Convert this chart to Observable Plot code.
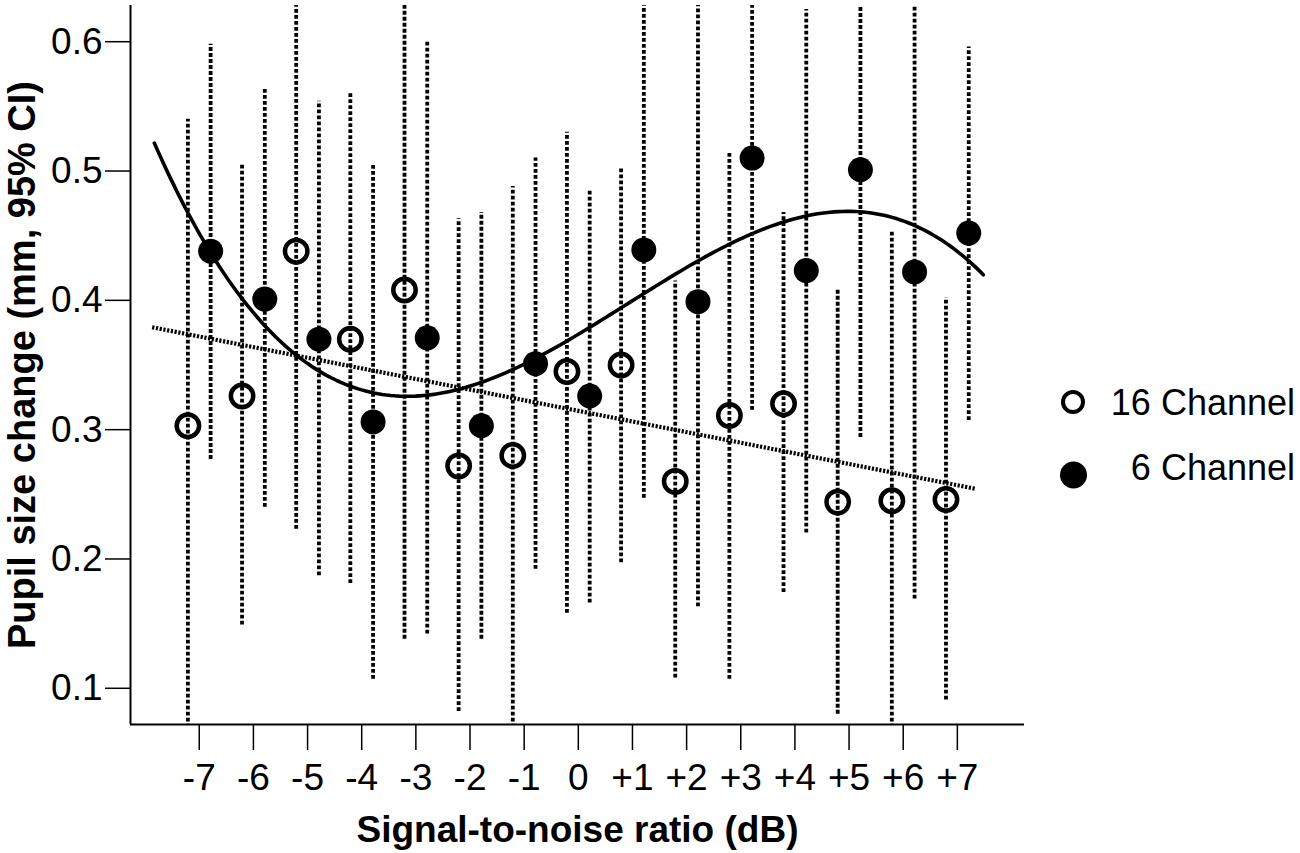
<!DOCTYPE html>
<html>
<head>
<meta charset="utf-8">
<script src="https://cdn.jsdelivr.net/npm/d3@7"></script>
<script src="https://cdn.jsdelivr.net/npm/@observablehq/plot@0.6"></script>
<style>
  body { margin: 0; background: #fff; font-family: "Liberation Sans", Arial, sans-serif; }
  #wrap { position: relative; width: 1300px; height: 853px; overflow: hidden; }
  #legend { position: absolute; left: 0; top: 0; }
</style>
</head>
<body>
<div id="wrap"></div>
<script>
// ---- data ----
const snr = [-7, -6, -5, -4, -3, -2, -1, 0, 1, 2, 3, 4, 5, 6, 7];
const xTickLabels = ["-7", "-6", "-5", "-4", "-3", "-2", "-1", "0", "+1", "+2", "+3", "+4", "+5", "+6", "+7"];
const yTicks = [0.1, 0.2, 0.3, 0.4, 0.5, 0.6];

const ch16Mean = [0.303, 0.326, 0.438, 0.370, 0.408, 0.272, 0.280, 0.345, 0.350, 0.260, 0.311, 0.320, 0.244, 0.245, 0.246];
const ch16Lo   = [0.060, 0.149, 0.223, 0.181, 0.138, 0.082, 0.060, 0.158, 0.197, 0.108, 0.107, 0.174, 0.080, 0.060, 0.091];
const ch16Hi   = [0.540, 0.505, 0.640, 0.560, 0.640, 0.463, 0.488, 0.530, 0.503, 0.415, 0.515, 0.468, 0.409, 0.453, 0.402];

const ch6Mean  = [0.438, 0.401, 0.370, 0.306, 0.371, 0.303, 0.351, 0.326, 0.439, 0.399, 0.510, 0.423, 0.501, 0.422, 0.452];
const ch6Lo    = [0.277, 0.240, 0.187, 0.107, 0.142, 0.138, 0.192, 0.166, 0.247, 0.163, 0.315, 0.220, 0.294, 0.169, 0.307];
const ch6Hi    = [0.598, 0.563, 0.554, 0.505, 0.600, 0.468, 0.510, 0.485, 0.640, 0.640, 0.640, 0.625, 0.640, 0.640, 0.596];

const groupOffset = 0.21;          // cluster offset of the two series (dB units)
const xDomain = [-8.27, 8.24];
const yDomain = [0.072, 0.628];
const cubicRange = [-7.83, 7.48];  // extent of the 6-channel cubic fit line
const linearRange = [-7.87, 7.34]; // extent of the 16-channel linear fit line

const xLabel = "Signal-to-noise ratio (dB)";
const yLabel = "Pupil size change (mm, 95% CI)";
const seriesNames = ["16 Channel", "6 Channel"];

// ---- derived tables ----
const d16 = snr.map((s, i) => ({x: s - groupOffset, s, y: ch16Mean[i], lo: ch16Lo[i], hi: ch16Hi[i]}));
const d6  = snr.map((s, i) => ({x: s + groupOffset, s, y: ch6Mean[i], lo: ch6Lo[i], hi: ch6Hi[i]}));

// least-squares polynomial fit
function polyFit(xs, ys, deg) {
  const n = deg + 1;
  const A = Array.from({length: n}, () => new Array(n + 1).fill(0));
  for (let k = 0; k < xs.length; k++) {
    for (let i = 0; i < n; i++) {
      for (let j = 0; j < n; j++) A[i][j] += Math.pow(xs[k], i + j);
      A[i][n] += ys[k] * Math.pow(xs[k], i);
    }
  }
  for (let i = 0; i < n; i++) {
    let p = i;
    for (let r = i + 1; r < n; r++) if (Math.abs(A[r][i]) > Math.abs(A[p][i])) p = r;
    [A[i], A[p]] = [A[p], A[i]];
    for (let r = 0; r < n; r++) {
      if (r === i) continue;
      const f = A[r][i] / A[i][i];
      for (let c = i; c <= n; c++) A[r][c] -= f * A[i][c];
    }
  }
  return A.map((row, i) => row[n] / row[i]);
}
const evalPoly = (c, x) => c.reduce((s, ci, i) => s + ci * Math.pow(x, i), 0);

const cub = polyFit(snr, ch6Mean, 3);
const lin = polyFit(snr, ch16Mean, 1);
const cubicLine = d3.range(0, 201).map(k => {
  const x = cubicRange[0] + (cubicRange[1] - cubicRange[0]) * k / 200;
  return {x, y: evalPoly(cub, x)};
});
const linearLine = linearRange.map(x => ({x, y: evalPoly(lin, x)}));

const FONT = "Liberation Sans, Arial, Helvetica, sans-serif";

const chart = Plot.plot({
  width: 1300,
  height: 853,
  marginLeft: 130,
  marginRight: 276,
  marginTop: 5,
  marginBottom: 129,
  style: {fontFamily: FONT, background: "white", color: "black"},
  x: {domain: xDomain},
  y: {domain: yDomain},
  marks: [
    // error bars (95% CI)
    Plot.ruleX(d16, {x: "x", y1: "lo", y2: "hi", stroke: "black", strokeWidth: 3.8, strokeDasharray: "3.8,2.2", strokeLinecap: "butt", clip: true}),
    Plot.ruleX(d6,  {x: "x", y1: "lo", y2: "hi", stroke: "black", strokeWidth: 3.8, strokeDasharray: "3.8,2.2", strokeLinecap: "butt", clip: true}),
    // fit lines
    Plot.line(linearLine, {x: "x", y: "y", stroke: "black", strokeWidth: 4.2, strokeDasharray: "2.2,1.6", strokeLinecap: "butt"}),
    Plot.line(cubicLine,  {x: "x", y: "y", stroke: "black", strokeWidth: 3.6}),
    // points
    Plot.dot(d16, {x: "x", y: "y", r: 11.2, fill: "none", stroke: "black", strokeWidth: 4.5}),
    Plot.dot(d6,  {x: "x", y: "y", r: 12.5, fill: "black", stroke: "none"}),
    // axes
    Plot.ruleX([xDomain[0]], {stroke: "black", strokeWidth: 2}),
    Plot.ruleY([yDomain[0]], {stroke: "black", strokeWidth: 2}),
    Plot.axisX(snr, {tickFormat: d => xTickLabels[snr.indexOf(d)], tickSize: 26, tickPadding: 13, fontSize: 37, stroke: "black", strokeWidth: 1.5, fill: "black", label: null}),
    Plot.axisY(yTicks, {tickFormat: d3.format(".1f"), tickSize: 25, tickPadding: 3, fontSize: 37, stroke: "black", strokeWidth: 1.5, fill: "black", label: null}),
    Plot.text([xLabel], {frameAnchor: "bottom", dy: 106, lineAnchor: "middle", textAnchor: "middle", fontSize: 37, fontWeight: "bold", fill: "black"}),
    Plot.text([yLabel], {frameAnchor: "left", dx: -108, rotate: -90, lineAnchor: "middle", textAnchor: "middle", fontSize: 38, fontWeight: "bold", fill: "black"})
  ]
});

const wrap = document.getElementById("wrap");
wrap.appendChild(chart);

// legend (right of the plot)
const leg = d3.select(wrap).append("svg")
  .attr("id", "legend")
  .attr("width", 1300).attr("height", 853)
  .style("font-family", FONT);
leg.append("circle").attr("cx", 1073).attr("cy", 402).attr("r", 10)
  .attr("fill", "none").attr("stroke", "black").attr("stroke-width", 4);
leg.append("circle").attr("cx", 1073.5).attr("cy", 475).attr("r", 13.5)
  .attr("fill", "black");
leg.append("text").attr("x", 1295).attr("y", 415).attr("text-anchor", "end")
  .attr("font-size", 36).attr("fill", "black").text(seriesNames[0]);
leg.append("text").attr("x", 1295).attr("y", 480).attr("text-anchor", "end")
  .attr("font-size", 36).attr("fill", "black").text(seriesNames[1]);
</script>
</body>
</html>
